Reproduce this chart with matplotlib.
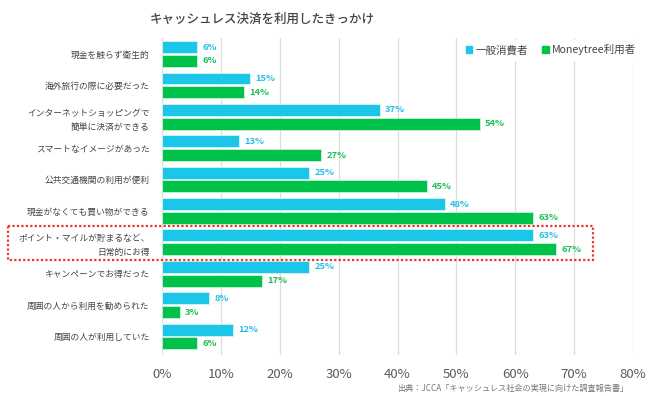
import matplotlib
matplotlib.use('Agg')
import matplotlib.pyplot as plt
from matplotlib.patches import Patch, Rectangle
import numpy as np

plt.rcParams['font.family'] = ['Noto Sans CJK JP', 'DejaVu Sans']

categories = ['現金を触らず衛生的', '海外旅行の際に必要だった',
              'インターネットショッピングで\n簡単に決済ができる', 'スマートなイメージがあった',
              '公共交通機関の利用が便利', '現金がなくても買い物ができる',
              'ポイント・マイルが貯まるなど、\n日常的にお得', 'キャンペーンでお得だった',
              '周囲の人から利用を勧められた', '周囲の人が利用していた']
general = [6, 15, 37, 13, 25, 48, 63, 25, 8, 12]
moneytree = [6, 14, 54, 27, 45, 63, 67, 17, 3, 6]
series_names = ['一般消費者', 'Moneytree利用者']
xticks = [0, 10, 20, 30, 40, 50, 60, 70, 80]

BLUE = '#1BC7E8'
GREEN = '#00C24A'
BLUE_TXT = '#22BFE6'
GREEN_TXT = '#19BE55'

fig = plt.figure(figsize=(6.5, 3.96), dpi=100)
ax = fig.add_axes([162/650, 1-355/396, (633-162)/650, (355-38)/396])

y = np.arange(len(categories))
h = 0.38
off = 0.22
ax.barh(y - off, general, height=h, color=BLUE, edgecolor='#D8F4FA', linewidth=0.6, zorder=3)
ax.barh(y + off, moneytree, height=h, color=GREEN, edgecolor='#CCF2DA', linewidth=0.6, zorder=3)

for i in range(len(categories)):
    ax.text(general[i] + 0.9, y[i] - off, '%d%%' % general[i], color=BLUE_TXT,
            fontsize=6.7, fontweight='bold', va='center', ha='left')
    ax.text(moneytree[i] + 0.9, y[i] + off, '%d%%' % moneytree[i], color=GREEN_TXT,
            fontsize=6.7, fontweight='bold', va='center', ha='left')

ax.set_xlim(0, 80)
ax.set_ylim(len(categories) - 1 + 0.59, -0.51)
ax.set_xticks(xticks)
ax.set_xticklabels(['%d%%' % t for t in xticks], fontsize=9.5, color='#5a5a5a')
ax.set_yticks(y)
ax.set_yticklabels(categories, fontsize=6.3, color='#444444', linespacing=1.7)
ax.tick_params(axis='both', length=0)
ax.tick_params(axis='x', pad=9)
ax.tick_params(axis='y', pad=9)
ax.grid(axis='x', color='#DDDDDD', linewidth=0.9, zorder=0)
for s in ax.spines.values():
    s.set_visible(False)

# highlight box
box = Rectangle((-26.1, 6 - 0.53), 99.3, 1.08, fill=False, edgecolor='#F0342A',
                linestyle=(0, (1, 1)), linewidth=1.6, clip_on=False, zorder=5)
ax.add_patch(box)

handles = [Patch(color=BLUE), Patch(color=GREEN)]
leg = ax.legend(handles, series_names, loc='upper right', bbox_to_anchor=(1.02, 1.0),
                ncol=2, frameon=True, fontsize=7.6, handlelength=0.6, handleheight=0.6,
                handletextpad=0.3, columnspacing=1.4, borderaxespad=0.2)
leg.get_frame().set_facecolor('white')
leg.get_frame().set_edgecolor('white')
leg.get_frame().set_alpha(1)
for t in leg.get_texts():
    t.set_color('#444444')

fig.text(262/650, 1-19/396, 'キャッシュレス決済を利用したきっかけ', ha='center', va='center',
         fontsize=9, fontweight='medium', color='#444444')
fig.text(628/650, 1-388/396, '出典：JCCA「キャッシュレス社会の実現に向けた調査報告書」',
         ha='right', va='center', fontsize=5.9, color='#777777')

fig.savefig('out.png', dpi=100, facecolor='white')
